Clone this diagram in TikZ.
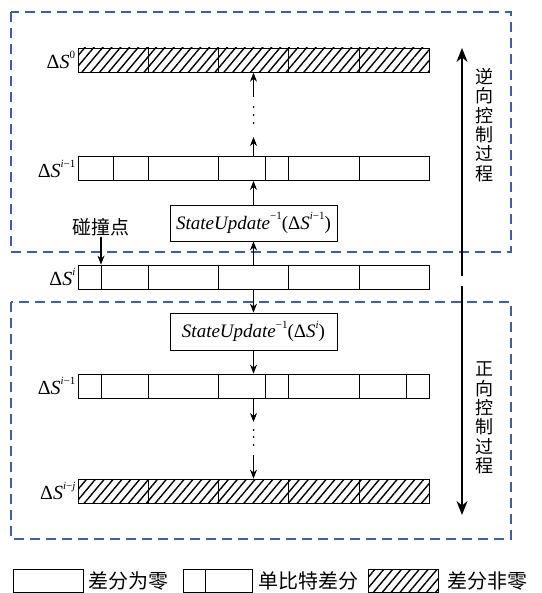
\documentclass[tikz,border=0pt]{standalone}
\usepackage{fontspec}
\setmainfont{Liberation Serif}
\newfontfamily\cjk{Noto Sans CJK SC}
\usetikzlibrary{arrows.meta,patterns.meta}
\definecolor{dashblue}{RGB}{60,95,165}
\newcommand\supx[1]{\raisebox{0.5em}{\fontsize{11}{11}\selectfont #1}}
\newcommand\dS[1]{Δ\textit{S}\supx{#1}}
\begin{document}
\begin{tikzpicture}[x=1pt,y=-1pt,
  rowbox/.style={draw, line width=0.8pt, minimum width=351pt, minimum height=24pt, inner sep=0pt},
  hatched/.style={rowbox, pattern={Lines[angle=50,distance=6.8pt,line width=1.4pt]}},
  divider/.style={line width=1pt},
  upbox/.style={draw, line width=0.8pt, minimum width=167pt, minimum height=36pt, inner sep=0pt, font=\fontsize{19}{19}\selectfont},
  arr/.style={line width=0.8pt, -{Stealth[length=9pt,width=7pt]}},
  bigarr/.style={line width=1.8pt, -{Stealth[length=14pt,width=11pt]}},
  dashbox/.style={draw=dashblue, line width=1.3pt, dash pattern=on 10pt off 6pt},
  lbl/.style={anchor=east, inner sep=2pt, font=\fontsize{20}{20}\selectfont},
  cjkv/.style={align=center, font=\cjk\fontsize{18}{19.3}\selectfont, inner sep=0pt},
  cjkh/.style={anchor=west, inner sep=0pt, font=\cjk\fontsize{20}{20}\selectfont},
  legbox/.style={draw, line width=0.8pt, minimum width=70pt, minimum height=23pt, inner sep=0pt},
  dotc/.style={fill, circle, inner sep=0pt, minimum size=2pt}
]
\useasboundingbox (0,0) rectangle (541,593);

% dashed regions
\draw[dashbox] (11,12) rectangle (511,252);
\draw[dashbox] (11,302) rectangle (511,539);

% rows
\node[hatched] (r0) at (253.5,60) {};
\node[rowbox] (r1) at (253.5,168.5) {};
\node[rowbox] (ri) at (253.5,277) {};
\node[rowbox] (r2) at (253.5,386) {};
\node[hatched] (rj) at (253.5,491) {};

\foreach \x in {148,218,288,359} \draw[divider] (\x,0 |- r0.north) -- (\x,0 |- r0.south);
\foreach \x in {113,148,218,265,288,359} \draw[divider] (\x,0 |- r1.north) -- (\x,0 |- r1.south);
\foreach \x in {101,148,218,288,359} \draw[divider] (\x,0 |- ri.north) -- (\x,0 |- ri.south);
\foreach \x in {101,148,218,265,288,359,406} \draw[divider] (\x,0 |- r2.north) -- (\x,0 |- r2.south);
\foreach \x in {148,218,288,359} \draw[divider] (\x,0 |- rj.north) -- (\x,0 |- rj.south);

% labels
\node[lbl] at (r0.west) {\dS{0}};
\node[lbl] at (r1.west) {\dS{\textit{i}−1}};
\node[lbl] at (ri.west) {\dS{\textit{i}}};
\node[lbl] at (r2.west) {\dS{\textit{i}−1}};
\node[lbl] at (rj.west) {\dS{\textit{i}−\textit{j}}};

% update boxes
\node[upbox] (bu) at (253.5,223) {\textit{StateUpdate}\supx{−1}(\dS{\textit{i}−1})};
\node[upbox, minimum height=37pt] (bl) at (253.5,331.5) {\textit{StateUpdate}\supx{−1}(\dS{\textit{i}})};

% arrows
\draw[arr] (bu.north) -- (r1.south);
\draw[arr] (ri.north) -- (bu.south);
\draw[arr] (ri.south) -- (bl.north);
\draw[arr] (bl.south) -- (r2.north);

\coordinate (ua) at (253.5,137);
\coordinate (ub) at (253.5,97);
\draw[arr] (r1.north) -- (ua);
\foreach \y in {107,115,123} \node[dotc] at (253.5,\y) {};
\draw[arr] (ub) -- (r0.south);

\coordinate (la) at (253.5,422);
\coordinate (lb) at (253.5,455);
\draw[arr] (r2.south) -- (la);
\foreach \y in {430,437,445} \node[dotc] at (253.5,\y) {};
\draw[arr] (lb) -- (rj.north);

% collision point
\node[font=\cjk\fontsize{19}{19}\selectfont, inner sep=1pt] (cp) at (101,227) {碰撞点};
\draw[line width=1.2pt, -{Stealth[length=9pt,width=7pt]}] (cp.south) -- (cp.south |- ri.north);

% big arrows
\coordinate (ba1) at (462,276);
\coordinate (ba1t) at (462,48);
\coordinate (ba2) at (462,286);
\coordinate (ba2t) at (462,515);
\draw[bigarr] (ba1) -- (ba1t);
\draw[bigarr] (ba2) -- (ba2t);
\node[cjkv] (tv1) at (484,125) {逆\\向\\控\\制\\过\\程};
\node[cjkv] (tv2) at (484,418) {正\\向\\控\\制\\过\\程};

% legend
\node[legbox] (lg1) at (48,580.5) {};
\node[cjkh] at (88,581) {差分为零};
\node[legbox, minimum width=69pt] (lg2) at (217.5,580.5) {};
\draw[divider] (205,0 |- lg2.north) -- (205,0 |- lg2.south);
\node[cjkh] at (258,581) {单比特差分};
\node[legbox, pattern={Lines[angle=50,distance=6.8pt,line width=1.4pt]}] (lg3) at (403,580.5) {};
\node[cjkh] at (447,581) {差分非零};
\end{tikzpicture}
\end{document}
